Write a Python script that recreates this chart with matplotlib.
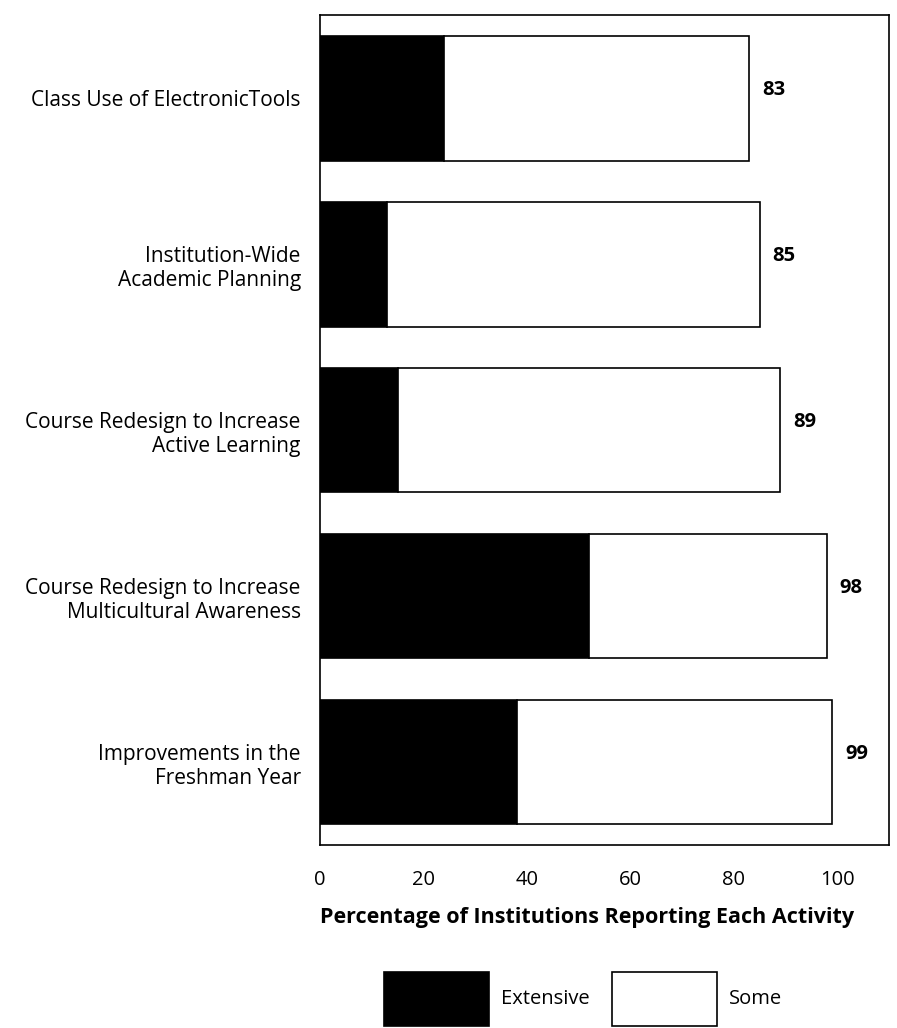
import matplotlib.pyplot as plt
import numpy as np

### Data
categories = ['Class Use of ElectronicTools',
              'Institution-Wide\nAcademic Planning',
              'Course Redesign to Increase\nActive Learning',
              'Course Redesign to Increase\nMulticultural Awareness',
              'Improvements in the\nFreshman Year']
extensive = [24, 13, 15, 52, 38]
total = [83, 85, 89, 98, 99]
some = [t - e for t, e in zip(total, extensive)]
xticks = [0, 20, 40, 60, 80, 100]

plt.rcParams['font.family'] = ['Open Sans', 'DejaVu Sans']

fig = plt.figure(figsize=(8.97, 10.28), dpi=100)
ax = fig.add_axes([0.357, 0.178, 0.634, 0.807])

pos = np.arange(len(categories))
ax.barh(pos, extensive, height=0.75, color='black', edgecolor='black',
        linewidth=1.2, label='Extensive')
ax.barh(pos, some, left=extensive, height=0.75, color='white',
        edgecolor='black', linewidth=1.2, label='Some')

# totals printed right of each bar
for p, t in zip(pos, total):
    ax.text(t + 2.5, p - 0.05, str(t), va='center', ha='left',
            fontsize=14.5, fontweight='bold')

ax.set_xlim(0, 110)
ax.set_ylim(4.5, -0.5)
ax.set_yticks(pos)
ax.set_yticklabels(categories, fontsize=15, ha='right', linespacing=1.2)
ax.set_xticks(xticks)
ax.set_xticklabels([str(x) for x in xticks], fontsize=14.5)
ax.tick_params(axis='both', length=0)
ax.tick_params(axis='x', pad=18)
ax.tick_params(axis='y', pad=14)
for s in ax.spines.values():
    s.set_linewidth(1.2)

ax.set_xlabel('Percentage of Institutions Reporting Each Activity',
              fontsize=15.5, fontweight='bold', labelpad=10)
ax.xaxis.set_label_coords(0.47, -0.075)

leg = fig.legend(loc='lower center', bbox_to_anchor=(0.65, -0.016), ncol=2,
                 frameon=False, fontsize=14.5, handlelength=5.2,
                 handleheight=3.8, handletextpad=0.6, columnspacing=1.15)

fig.savefig('out.png', dpi=100)
